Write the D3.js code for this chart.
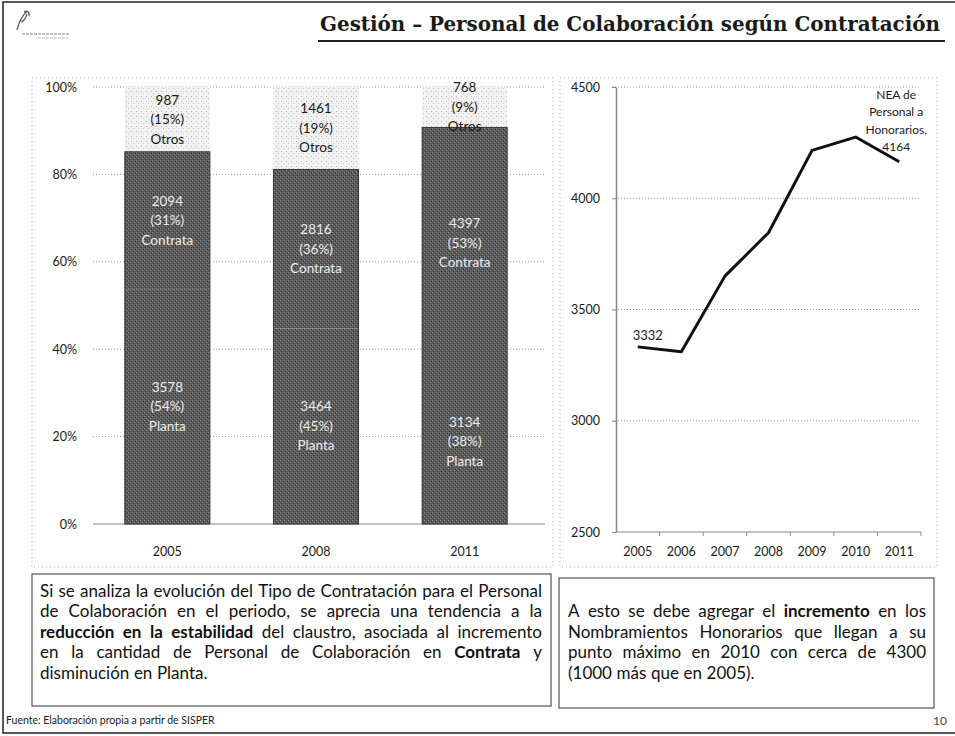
<!DOCTYPE html>
<html><head><meta charset="utf-8">
<script src="https://cdn.jsdelivr.net/npm/d3@7"></script>
<style>
html,body{margin:0;padding:0;background:#fff;}
svg{display:block;font-family:Lato,"Open Sans",sans-serif;}
</style></head>
<body>
<svg id="chart" width="955" height="736"></svg>
<script>
// ---------- data ----------
const barYears = ["2005", "2008", "2011"];
const planta   = [3578, 3464, 3134];
const contrata = [2094, 2816, 4397];
const otros    = [987, 1461, 768];
const segNames = ["Planta", "Contrata", "Otros"];
const pctTicks = [0, 0.2, 0.4, 0.6, 0.8, 1];

const lineYears  = ["2005", "2006", "2007", "2008", "2009", "2010", "2011"];
const honorarios = [3332, 3310, 3650, 3845, 4215, 4275, 4164];
const honTicks   = [2500, 3000, 3500, 4000, 4500];
const lastLabel  = ["NEA de", "Personal a", "Honorarios,", "4164"];

const titleText  = "Gestión – Personal de Colaboración según Contratación";
const leftPara = [
  [["Si se analiza la evolución del Tipo de Contratación para el Personal", false]],
  [["de Colaboración en el periodo, se aprecia una tendencia a la", false]],
  [["reducción en la estabilidad", true], ["del claustro, asociada al incremento", false]],
  [["en la cantidad de Personal de Colaboración en", false], ["Contrata", true], ["y", false]],
  [["disminución en Planta.", false]]
];
const rightPara = [
  [["A esto se debe agregar el", false], ["incremento", true], ["en los", false]],
  [["Nombramientos Honorarios que llegan a su", false]],
  [["punto máximo en 2010 con cerca de 4300", false]],
  [["(1000 más que en 2005).", false]]
];
const sourceText = "Fuente: Elaboración propia a partir de SISPER";
const pageNum = "10";

// ---------- setup ----------
const svg = d3.select("#chart");
const defs = svg.append("defs");
const pDark = defs.append("pattern").attr("id","dark").attr("width",4).attr("height",4).attr("patternUnits","userSpaceOnUse");
pDark.append("rect").attr("width",4).attr("height",4).attr("fill","#5b5b5b");
pDark.append("rect").attr("x",0).attr("y",0).attr("width",1).attr("height",1).attr("fill","#8c8c8c");
pDark.append("rect").attr("x",2).attr("y",2).attr("width",1).attr("height",1).attr("fill","#8c8c8c");
pDark.append("rect").attr("x",1).attr("y",3).attr("width",1).attr("height",1).attr("fill","#333");
pDark.append("rect").attr("x",3).attr("y",1).attr("width",1).attr("height",1).attr("fill","#333");
const pLight = defs.append("pattern").attr("id","light").attr("width",5).attr("height",5).attr("patternUnits","userSpaceOnUse");
pLight.append("rect").attr("width",5).attr("height",5).attr("fill","#f1f1f1");
pLight.append("rect").attr("x",1).attr("y",1).attr("width",1).attr("height",1).attr("fill","#b5b5b5");
pLight.append("rect").attr("x",3).attr("y",3).attr("width",1).attr("height",1).attr("fill","#c8c8c8");

// page border
svg.append("path").attr("d","M955,2 H3 V733 H955").attr("fill","none").attr("stroke","#222").attr("stroke-width",1.5);

// logo mark
const logo = svg.append("g").attr("stroke","#555").attr("fill","none");
logo.append("path").attr("d","M17,30 C19,22 22,16 27,11 M21,22 C24,21 26,18 27,14 M24,12 C27,10 30,12 29,16").attr("stroke-width",1.2);
logo.append("line").attr("x1",22).attr("x2",70).attr("y1",34).attr("y2",34).attr("stroke","#aaa").attr("stroke-width",1.5).attr("stroke-dasharray","3,1");
logo.append("line").attr("x1",38).attr("x2",68).attr("y1",38).attr("y2",38).attr("stroke","#bbb").attr("stroke-width",1.2).attr("stroke-dasharray","3,1");

// title
svg.append("text").attr("x",940).attr("y",31).attr("text-anchor","end")
  .attr("font-family","'DejaVu Serif Condensed','DejaVu Serif','Liberation Serif',serif").attr("font-weight","bold")
  .attr("font-size",21).attr("fill","#1a1a1a")
  .attr("textLength",620).attr("lengthAdjust","spacingAndGlyphs").text(titleText);
svg.append("line").attr("x1",318).attr("x2",945).attr("y1",41).attr("y2",41).attr("stroke","#222").attr("stroke-width",2);

// panel dotted borders
[[32,78,553,567],[560,78,937,567]].forEach(([x0,y0,x1,y1]) => {
  svg.append("rect").attr("x",x0).attr("y",y0).attr("width",x1-x0).attr("height",y1-y0)
    .attr("fill","none").attr("stroke","#aaa").attr("stroke-width",1).attr("stroke-dasharray","1,3");
});

// ---------- left stacked 100% bar chart ----------
const rows = barYears.map((y,i) => ({year:y, Planta:planta[i], Contrata:contrata[i], Otros:otros[i]}));
const stack = d3.stack().keys(segNames).offset(d3.stackOffsetExpand)(rows);
const xL = d3.scaleBand().domain(barYears).range([93,539]).paddingInner(0.428).paddingOuter(0.214);
const yL = d3.scaleLinear().domain([0,1]).range([524,87]);

const gL = svg.append("g");
gL.append("g").selectAll("line").data(pctTicks.slice(1)).join("line")
  .attr("x1",93).attr("x2",545).attr("y1",d=>yL(d)).attr("y2",d=>yL(d))
  .attr("stroke","#9a9a9a").attr("stroke-width",1).attr("stroke-dasharray","1,2");
const axL = gL.append("g").attr("transform","translate(93,0)")
  .call(d3.axisLeft(yL).tickValues(pctTicks).tickFormat(d3.format(".0%")).tickSize(0).tickPadding(16));
axL.select(".domain").remove();
axL.selectAll("text").attr("font-size",12.5).attr("fill","#1a1a1a").attr("font-family","Lato,sans-serif");
gL.append("line").attr("x1",93).attr("x2",545).attr("y1",yL(0)).attr("y2",yL(0)).attr("stroke","#888").attr("stroke-width",1.2);

const fills = {Planta:"url(#dark)", Contrata:"url(#dark)", Otros:"url(#light)"};
stack.forEach(layer => {
  gL.append("g").selectAll("rect").data(layer).join("rect")
    .attr("x",d=>xL(d.data.year)).attr("width",xL.bandwidth())
    .attr("y",d=>yL(d[1])).attr("height",d=>yL(d[0])-yL(d[1]))
    .attr("fill",fills[layer.key]);
});
const contrataLayer = stack[1];
gL.append("g").selectAll("rect").data(contrataLayer).join("rect")
  .attr("x",d=>xL(d.data.year)).attr("width",xL.bandwidth())
  .attr("y",d=>yL(d[1])).attr("height",d=>yL(0)-yL(d[1]))
  .attr("fill","none").attr("stroke","#333").attr("stroke-width",1);

const pctFmt = d3.format(".0%");
stack.forEach(layer => {
  layer.forEach(d => {
    const cx = xL(d.data.year) + xL.bandwidth()/2;
    const cy = yL((d[0]+d[1])/2);
    const val = d.data[layer.key];
    const lines = [String(val), "(" + pctFmt(d[1]-d[0]) + ")", layer.key];
    const col = layer.key === "Otros" ? "#1a1a1a" : "#ececec";
    lines.forEach((t,k) => {
      gL.append("text").attr("x",cx).attr("y",cy + (k-1)*19.5).attr("dy","0.35em")
        .attr("text-anchor","middle").attr("font-size",13.5).attr("fill",col).text(t);
    });
  });
});
gL.append("g").selectAll("text").data(barYears).join("text")
  .attr("x",d=>xL(d)+xL.bandwidth()/2).attr("y",552).attr("dy","0.35em")
  .attr("text-anchor","middle").attr("font-size",12.5).attr("fill","#1a1a1a").text(d=>d);

// ---------- right line chart ----------
const xR = d3.scaleBand().domain(lineYears).range([616,921]);
const yR = d3.scaleLinear().domain([2500,4500]).range([532,87]);
const gR = svg.append("g");
gR.append("g").selectAll("line").data(honTicks.slice(1)).join("line")
  .attr("x1",612).attr("x2",921).attr("y1",d=>yR(d)).attr("y2",d=>yR(d))
  .attr("stroke","#9a9a9a").attr("stroke-width",1).attr("stroke-dasharray","1,2");
const axR = gR.append("g").attr("transform","translate(616,0)")
  .call(d3.axisLeft(yR).tickValues(honTicks).tickFormat(d3.format("d")).tickSize(4).tickSizeOuter(0).tickPadding(12));
axR.select(".domain").attr("stroke","#888").attr("stroke-width",1.5);
axR.selectAll(".tick line").attr("stroke","#888");
axR.selectAll("text").attr("font-size",12.5).attr("fill","#1a1a1a").attr("font-family","Lato,sans-serif");
gR.append("line").attr("x1",616).attr("x2",921).attr("y1",yR(2500)).attr("y2",yR(2500)).attr("stroke","#888").attr("stroke-width",1.2);
gR.append("g").selectAll("line").data(lineYears).join("line")
  .attr("x1",d=>xR(d)+xR.bandwidth()).attr("x2",d=>xR(d)+xR.bandwidth())
  .attr("y1",yR(2500)).attr("y2",yR(2500)+4).attr("stroke","#888");
gR.append("g").selectAll("text").data(lineYears).join("text")
  .attr("x",d=>xR(d)+xR.bandwidth()/2).attr("y",552).attr("dy","0.35em")
  .attr("text-anchor","middle").attr("font-size",12.5).attr("fill","#1a1a1a").text(d=>d);
const pts = lineYears.map((y,i)=>[xR(y)+xR.bandwidth()/2, yR(honorarios[i])]);
gR.append("path").attr("d",d3.line()(pts)).attr("fill","none").attr("stroke","#111")
  .attr("stroke-width",3).attr("stroke-linejoin","round");
gR.append("text").attr("x",pts[0][0]+10).attr("y",pts[0][1]-11).attr("dy","0.35em")
  .attr("text-anchor","middle").attr("font-size",13).attr("fill","#1a1a1a").text(String(honorarios[0]));
const lp = pts[pts.length-1];
lastLabel.forEach((t,k)=>{
  gR.append("text").attr("x",lp[0]-3).attr("y",lp[1]-67+k*17.5).attr("dy","0.35em")
    .attr("text-anchor","middle").attr("font-size",12).attr("fill","#1a1a1a").text(t);
});

// ---------- text boxes ----------
svg.append("rect").attr("x",32).attr("y",574).attr("width",519).attr("height",132)
  .attr("fill","none").attr("stroke","#333").attr("stroke-width",1);
svg.append("rect").attr("x",559).attr("y",578).attr("width",375).attr("height",130)
  .attr("fill","none").attr("stroke","#333").attr("stroke-width",1);

function drawPara(lines, x0, x1, y0, lh, fs0) {
  const g = svg.append("g").attr("fill","#111");
  lines.forEach((segs, i) => {
    const words = [];
    segs.forEach(([txt,b]) => txt.split(" ").forEach(w => words.push([w,b])));
    const y = y0 + i*lh;
    let fs = fs0;
    const nodes = words.map(([w,b]) => g.append("text").attr("y",y).attr("dy","0.35em")
      .attr("font-size",fs).attr("font-weight", b ? "bold" : "normal").text(w));
    let widths = nodes.map(n => n.node().getComputedTextLength());
    let total = d3.sum(widths);
    const minGap = fs*0.22;
    if (total + minGap*(words.length-1) > x1-x0) {
      const k = (x1-x0) / (total + minGap*(words.length-1));
      fs = fs*k;
      nodes.forEach(n => n.attr("font-size",fs));
      widths = nodes.map(n => n.node().getComputedTextLength());
      total = d3.sum(widths);
    }
    const last = i === lines.length-1;
    const gap = last ? fs*0.27 : (x1-x0-total)/(words.length-1);
    let x = x0;
    nodes.forEach((n,j) => { n.attr("x",x); x += widths[j] + gap; });
  });
}
drawPara(leftPara, 40, 542, 591, 20.5, 17);
drawPara(rightPara, 568, 926, 611.5, 20.5, 17);

svg.append("text").attr("x",6).attr("y",720).attr("dy","0.35em").attr("font-size",10.5).attr("fill","#222").text(sourceText);
svg.append("text").attr("x",947).attr("y",721).attr("dy","0.35em").attr("text-anchor","end").attr("font-size",12).attr("fill","#444").text(pageNum);
</script>
</body></html>
